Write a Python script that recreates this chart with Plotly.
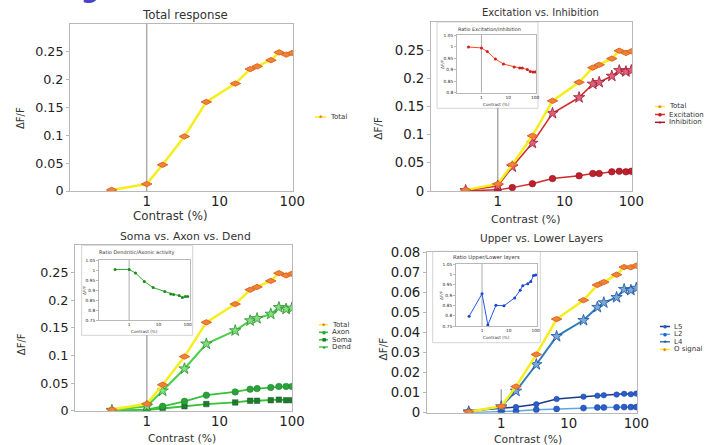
import plotly.graph_objects as go

W, H = 722, 445

# ---------------- data ----------------
contrast = [0.33, 1, 1.65, 3.3, 6.6, 16.5, 26.5, 33, 51, 66, 83, 100]

total = [0.002, 0.0125, 0.047, 0.098, 0.16, 0.193, 0.219, 0.224, 0.235, 0.249, 0.245, 0.248]

excitation = [0.0005, 0.002, 0.006, 0.013, 0.022, 0.027, 0.031, 0.031, 0.034, 0.035, 0.034, 0.035]
inhibition = [0.001, 0.009, 0.043, 0.085, 0.138, 0.166, 0.19, 0.193, 0.204, 0.214, 0.212, 0.214]
ratio_exc_inh = [0.998, 0.994, 0.978, 0.946, 0.924, 0.911, 0.907, 0.907, 0.9, 0.892, 0.89, 0.89]

axon = [0.0, 0.002, 0.008, 0.017, 0.028, 0.034, 0.039, 0.04, 0.042, 0.044, 0.044, 0.044]
soma = [0.0, 0.001, 0.004, 0.008, 0.012, 0.015, 0.018, 0.018, 0.019, 0.02, 0.019, 0.019]
dend = [0.001, 0.008, 0.036, 0.076, 0.121, 0.145, 0.163, 0.167, 0.175, 0.187, 0.184, 0.186]
ratio_dend_axon = [1.002, 1.003, 0.985, 0.943, 0.912, 0.893, 0.88, 0.878, 0.872, 0.862, 0.868, 0.868]

l5 = [0.0008, 0.002, 0.0028, 0.0042, 0.0068, 0.008, 0.0085, 0.0087, 0.009, 0.0094, 0.0092, 0.0095]
l2 = [0.0, 0.0003, 0.0008, 0.0015, 0.0019, 0.0023, 0.0026, 0.0026, 0.0027, 0.0028, 0.0028, 0.0028]
l4 = [0.0005, 0.003, 0.0108, 0.024, 0.038, 0.046, 0.0525, 0.0548, 0.0574, 0.0614, 0.061, 0.062]
o_signal = [0.0005, 0.0032, 0.013, 0.029, 0.0466, 0.056, 0.0636, 0.065, 0.0687, 0.0725, 0.0724, 0.0732]
ratio_upper_lower = [0.797, 0.906, 0.755, 0.85, 0.848, 0.886, 0.923, 0.945, 0.955, 0.965, 0.994, 0.997]

x_ticks = [1, 10, 100]
x_tick_labels = ["1", "10", "100"]
main_y_ticks = [0, 0.05, 0.1, 0.15, 0.2, 0.25]
main_y_labels = ["0", "0.05", "0.1", "0.15", "0.2", "0.25"]
layer_y_ticks = [0, 0.01, 0.02, 0.03, 0.04, 0.05, 0.06, 0.07, 0.08]
layer_y_labels = ["0", "0.01", "0.02", "0.03", "0.04", "0.05", "0.06", "0.07", "0.08"]
ratio_y_ticks_a = [0.8, 0.85, 0.9, 0.95, 1, 1.05]
ratio_y_labels_a = ["0.8", "0.85", "0.9", "0.95", "1", "1.05"]
ratio_y_ticks_b = [0.75, 0.8, 0.85, 0.9, 0.95, 1, 1.05]
ratio_y_labels_b = ["0.75", "0.8", "0.85", "0.9", "0.95", "1", "1.05"]

titles = ["Total response", "Excitation vs. Inhibition", "Soma vs. Axon vs. Dend", "Upper vs. Lower Layers"]
inset_titles = ["Ratio Excitation/Inhibition", "Ratio Dendritic/Axonic activity", "Ratio Upper/Lower layers"]
x_title = "Contrast (%)"
y_title = "ΔF/F"
heading_fragment = "g"

# ---------------- style ----------------
FONT = "DejaVu Sans"
TXT = "#333333"
FRAME = "#b8b8b8"
VLINE = "#ababab"
YEL = "#f6ee1c"
ORANGE = "#f0823a"


def px(x):
    return x / W


def py(y):
    return 1 - y / H


def aname(n, a):
    return f"{a}axis" + ("" if n == 1 else str(n))


def aref(n, a):
    return a + ("" if n == 1 else str(n))


# panel geometry in pixels: left, right, top, bottom, log x-range, y-range
geo = {
    1: dict(l=70, r=293, t=24, b=191, xr=[-1.053, 2.01], yr=[0, 0.3]),
    2: dict(l=431, r=632, t=22, b=191, xr=[-1.0, 2.01], yr=[0, 0.3]),
    3: dict(l=75, r=292, t=245, b=410.7, xr=[-0.99, 2.0], yr=[0, 0.3]),
    4: dict(l=427, r=637, t=252, b=412.7, xr=[-1.1, 2.01], yr=[0, 0.08]),
    5: dict(l=457, r=536, t=35, b=92.7, xr=[-0.91, 2.03], yr=[0.8, 1.05]),
    6: dict(l=99, r=190, t=260, b=320, xr=[-1.03, 2.08], yr=[0.75, 1.05]),
    7: dict(l=456, r=537, t=264, b=326, xr=[-0.97, 2.05], yr=[0.75, 1.05]),
}

fig = go.Figure()
layout = {}
for n, g in geo.items():
    inset = n >= 5
    tfs = 4.3 if inset else 13.3
    layout[aname(n, "x")] = dict(
        domain=[px(g["l"]), px(g["r"])], type="log", range=g["xr"], anchor=aref(n, "y"),
        tickvals=x_ticks, ticktext=x_tick_labels, showgrid=False, zeroline=False,
        showline=True, mirror=True, linecolor=FRAME, linewidth=1,
        ticks="", tickfont=dict(family=FONT, size=tfs, color="#222"), automargin=False,
        ticklabelstandoff=0 if inset else -2,
    )
    if n in (1, 3):
        yt, yl, yfs = main_y_ticks, main_y_labels, 12.7
    elif n == 2:
        yt, yl, yfs = main_y_ticks, main_y_labels, 13.3
    elif n == 4:
        yt, yl, yfs = layer_y_ticks, layer_y_labels, 13.3
    elif n == 5:
        yt, yl, yfs = ratio_y_ticks_a, ratio_y_labels_a, 4.3
    else:
        yt, yl, yfs = ratio_y_ticks_b, ratio_y_labels_b, 4.3
    layout[aname(n, "y")] = dict(
        domain=[py(g["b"]), py(g["t"])], range=g["yr"], anchor=aref(n, "x"),
        tickvals=yt, ticktext=yl, showgrid=False, zeroline=False,
        showline=True, mirror=True, linecolor=FRAME, linewidth=1,
        ticks="outside", ticklen=2 if inset else 3, tickcolor=FRAME,
        tickfont=dict(family=FONT, size=yfs, color="#222"), automargin=False,
    )

# hidden axis holding the cropped heading fragment (clipped at the page top)
layout["xaxis8"] = dict(domain=[px(76), px(104)], range=[0, 1], visible=False, anchor="y8", fixedrange=True)
layout["yaxis8"] = dict(domain=[py(8), 1], range=[0, 1], visible=False, anchor="x8", fixedrange=True)
fig.add_trace(go.Scatter(x=[0.5], y=[2.25], mode="text", text=[f"<b>{heading_fragment}</b>"],
                         textposition="middle center", cliponaxis=True,
                         textfont=dict(family=FONT, size=26, color="#4a44c8"),
                         xaxis="x8", yaxis="y8", showlegend=False, hoverinfo="skip"))

# vertical reference line at contrast = 1 (stops at the inset boxes)
vline_top = {1: 0.3, 2: 0.148, 3: 0.137, 4: 0.0117, 5: 1.05, 6: 1.05, 7: 1.05}
vline_bottom = {1: 0, 2: 0, 3: 0, 4: 0, 5: 0.8, 6: 0.75, 7: 0.75}
for n in geo:
    fig.add_trace(go.Scatter(
        x=[1, 1], y=[vline_bottom[n], vline_top[n]], mode="lines",
        line=dict(color=VLINE, width=1.5 if n < 5 else 1),
        xaxis=aref(n, "x"), yaxis=aref(n, "y"), showlegend=False, hoverinfo="skip"))


def series(n, y, lc, lw, sym, ms, mc, mlc, mlw=0.6, dash="solid"):
    fig.add_trace(go.Scatter(
        x=contrast, y=y, mode="lines+markers",
        line=dict(color=lc, width=lw, dash=dash),
        marker=dict(symbol=sym, size=ms, color=mc, line=dict(color=mlc, width=mlw)),
        xaxis=aref(n, "x"), yaxis=aref(n, "y"), showlegend=False))


def total_series(n, y):
    series(n, y, YEL, 2.5, "diamond-wide", 7.5, ORANGE, "#e0661e", 1.0)


# panel 1
total_series(1, total)
# panel 2
series(2, excitation, "#d42a2a", 1.5, "circle", 6.5, "#c0202c", "#8a1020", 0.6)
series(2, inhibition, "#cf2c2c", 1.6, "star", 8.5, "#e0607a", "#9a1a30", 0.8)
total_series(2, total)
# panel 3
series(3, soma, "#36c236", 1.8, "square", 5.5, "#1e7a2e", "#145a20", 0.5)
series(3, axon, "#36c236", 1.8, "circle", 6.5, "#2aa43a", "#1a7a2a", 0.5)
series(3, dend, "#48d048", 2.0, "star", 8.5, "#80e080", "#2a8a2a", 0.8)
total_series(3, total)
# panel 4
series(4, l2, "#5aa6e6", 1.5, "circle", 6, "#2a5ec8", "#1a3ea0", 0.5)
series(4, l5, "#1c3a8a", 1.5, "circle", 5.5, "#2860c8", "#1a3ea0", 0.5)
series(4, l4, "#2f7db8", 2.0, "star", 8.5, "#7aa8d8", "#1a50a0", 0.8)
total_series(4, o_signal)
# insets
series(5, ratio_exc_inh, "#ff4a1e", 1.0, "circle", 3, "#cc2020", "#cc2020", 0)
series(6, ratio_dend_axon, "#2eaa2e", 1.0, "circle", 3, "#1e8a1e", "#1e8a1e", 0)
series(7, ratio_upper_lower, "#2458ee", 1.0, "circle", 3, "#1a44cc", "#1a44cc", 0)

shapes = []
annotations = []

# inset boxes (white, thin border)
inset_boxes = [(437, 538, 22, 108.3), (81.7, 192.7, 245.3, 335.3), (432.7, 540.3, 251.3, 342.7)]
for (l, r, t, b) in inset_boxes:
    shapes.append(dict(type="rect", xref="paper", yref="paper", x0=px(l), x1=px(r),
                       y0=py(b), y1=py(t), fillcolor="white",
                       line=dict(color="#d4d4d4", width=1), layer="below"))


def text(x, y, s, size, angle=0, xanchor="center", color=TXT):
    annotations.append(dict(x=px(x), y=py(y), xref="paper", yref="paper", text=s,
                            showarrow=False, textangle=angle, xanchor=xanchor, yanchor="middle",
                            borderpad=0, font=dict(family=FONT, size=size, color=color)))


# panel titles
text(184.7, 15, titles[0], 11.8)
text(540, 12, titles[1], 10)
text(185.7, 236, titles[2], 10.8)
text(541, 237.7, titles[3], 10.5)
# x titles
text(170, 216, x_title, 11.8)
text(525.7, 219, x_title, 11)
text(182.5, 438, x_title, 10.8)
text(527.8, 439.5, x_title, 10.8)
# y titles
text(20, 118, y_title, 10, -90)
text(377.7, 128, y_title, 10.5, -90)
text(21.5, 344.7, y_title, 10, -90)
text(382.7, 348.7, y_title, 10.5, -90)
# inset titles / labels
text(457, 29, inset_titles[0], 4.9, xanchor="left")
text(97.5, 252.3, inset_titles[1], 5.0, xanchor="left")
text(452.5, 257, inset_titles[2], 5.3, xanchor="left")
for n, (ty, ay) in zip((5, 6, 7), ((104.3, 64), (331, 290), (337.3, 295))):
    g = geo[n]
    text((g["l"] + g["r"]) / 2, ty, x_title, 4.2)
    text(g["l"] - 15, ay, y_title, 4.2, -90)

# compact legends
legends = [
    (315, 326, 329, [117], [("Total", YEL, ORANGE, "◆")]),
    (655, 665, 667.5, [106.5, 114.5, 122.3],
     [("Total", YEL, ORANGE, "◆"), ("Excitation", "#e03030", "#c02020", "●"),
      ("Inhibition", "#b01830", "#b01830", "★")]),
    (319, 328, 331, [324.7, 332.3, 339.8, 347],
     [("Total", YEL, ORANGE, "◆"), ("Axon", "#36c236", "#2aa43a", "●"),
      ("Soma", "#36c236", "#1e7a2e", "■"), ("Dend", "#48d048", "#2a8a2a", "★")]),
    (660, 670, 673, [326.5, 334.3, 341.8, 349.4],
     [("L5", "#1c3a8a", "#2860c8", "●"), ("L2", "#5aa6e6", "#2a5ec8", "●"),
      ("L4", "#2f7db8", "#1a50a0", "★"), ("O signal", YEL, ORANGE, "◆")]),
]
for (l0, l1, tx, ys, items) in legends:
    for yy, (lab, lc, mc, glyph) in zip(ys, items):
        shapes.append(dict(type="line", xref="paper", yref="paper", x0=px(l0), x1=px(l1),
                           y0=py(yy), y1=py(yy), line=dict(color=lc, width=1.5)))
        text((l0 + l1) / 2, yy, glyph, 4.5, color=mc)
        text(tx, yy, lab, 7.0, xanchor="left")

fig.update_layout(
    width=W, height=H, autosize=False,
    margin=dict(l=0, r=0, t=0, b=0, pad=0),
    paper_bgcolor="white", plot_bgcolor="white",
    showlegend=False, shapes=shapes, annotations=annotations,
    **layout,
)

fig.write_html("out.html", config={"displayModeBar": False, "responsive": False},
               post_script="document.body.style.margin='0px';document.body.style.overflow='hidden';")
